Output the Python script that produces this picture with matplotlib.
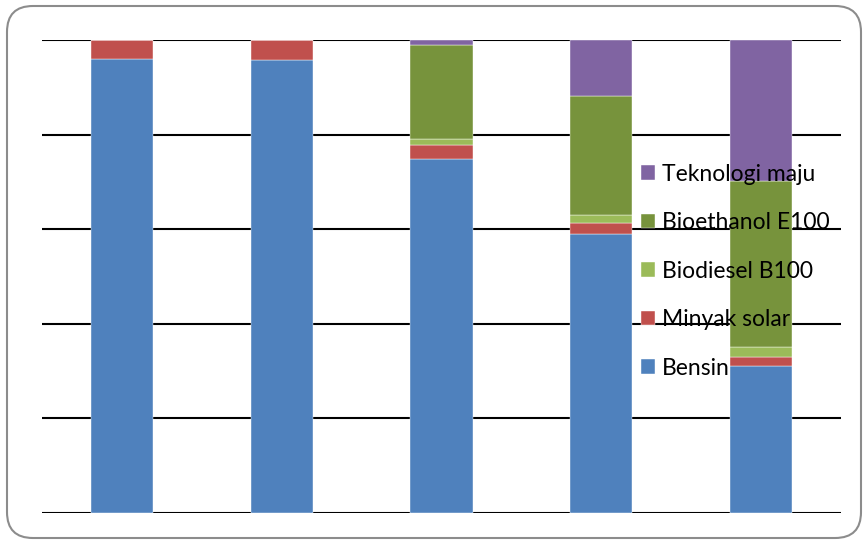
import matplotlib.pyplot as plt
import numpy as np
from matplotlib.patches import FancyBboxPatch

plt.rcParams['font.family'] = ['Lato', 'DejaVu Sans']

categories = ['1', '2', '3', '4', '5']
series_names = ['Bensin', 'Minyak solar', 'Biodiesel B100', 'Bioethanol E100', 'Teknologi maju']
bensin = [95.9, 95.7, 74.9, 59.0, 31.0]
minyak_solar = [4.0, 4.3, 2.8, 2.4, 2.0]
biodiesel = [0.0, 0.0, 1.4, 1.7, 2.2]
bioethanol = [0.1, 0.0, 19.8, 25.0, 35.0]
teknologi = [0.0, 0.0, 1.1, 11.9, 29.8]
colors = ['#4F81BD', '#C0504D', '#9BBB59', '#77933C', '#8064A2']

fig = plt.figure(figsize=(8.64, 5.44), dpi=100)
ax = fig.add_axes([42/864, 31/544, 799/864, 473/544])

x = np.arange(len(categories))
bottom = np.zeros(len(categories))
for name, vals, c in zip(series_names, [bensin, minyak_solar, biodiesel, bioethanol, teknologi], colors):
    ax.bar(x, vals, bottom=bottom, width=0.39, color=c, label=name, zorder=2,
           edgecolor='#ffffff', linewidth=0.3)
    bottom += np.array(vals)

ax.set_xlim(-0.5, 4.5)
ax.set_ylim(0, 100)
ax.set_yticks([0, 20, 40, 60, 80, 100])
ax.yaxis.grid(True, color='black', linewidth=1.5, zorder=0)
ax.set_axisbelow(True)
ax.tick_params(left=False, bottom=False, labelleft=False, labelbottom=False)
for s in ax.spines.values():
    s.set_visible(False)

handles, labels = ax.get_legend_handles_labels()
leg = ax.legend(handles[::-1], labels[::-1], loc='upper left', bbox_to_anchor=(0.738, 0.758),
                frameon=False, fontsize=16.5, handlelength=0.62, handleheight=0.62,
                handletextpad=0.3, labelspacing=1.2, borderaxespad=0)
leg.set_zorder(5)

frame = FancyBboxPatch((7/864, 6/544), 854/864, 532/544,
                       boxstyle='round,pad=0,rounding_size=0.03',
                       transform=fig.transFigure, facecolor='none',
                       edgecolor='#8c8c8c', linewidth=1.5, mutation_aspect=864/544)
fig.patches.append(frame)

fig.savefig('out.png', dpi=100)
